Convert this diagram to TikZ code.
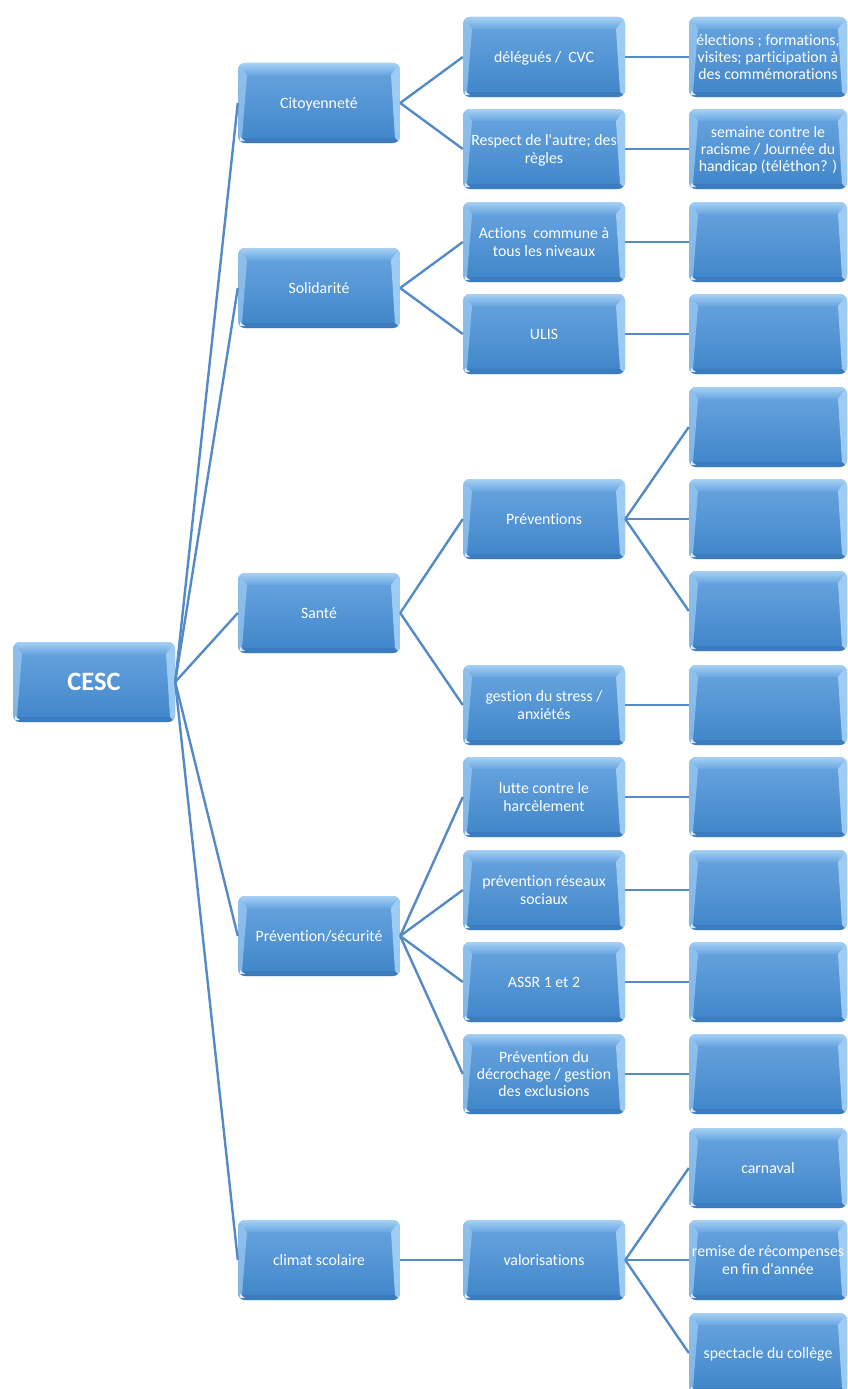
\documentclass[tikz,border=0pt]{standalone}
\usepackage{fontspec}
\setmainfont{Carlito}[Ligatures={NoCommon}]
\definecolor{boxtop}{HTML}{6AA6E0}
\definecolor{boxbot}{HTML}{3F85C9}
\definecolor{bevlight}{HTML}{AAD4F7}
\definecolor{bevdark}{HTML}{3573B3}
\definecolor{linkc}{HTML}{548BC6}
\tikzset{
  box/.style={rounded corners=7pt, minimum width=162pt, minimum height=80pt, inner sep=0pt,
    align=center, text=white, font=\fontsize{15.8}{17.3}\selectfont, text depth=0pt,
    top color=boxtop, bottom color=boxbot, draw=none,
    path picture={
      \begin{scope}[sharp corners]
      \coordinate (nw) at (path picture bounding box.north west);
      \coordinate (ne) at (path picture bounding box.north east);
      \coordinate (sw) at (path picture bounding box.south west);
      \coordinate (se) at (path picture bounding box.south east);
      \shade[top color=bevlight, bottom color=boxtop, opacity=0.95]
        (nw) -- (ne) -- ([shift={(-9pt,-12pt)}]ne) -- ([shift={(9pt,-12pt)}]nw) -- cycle;
      \fill[bevlight, opacity=0.6]
        (nw) -- ([shift={(9pt,-12pt)}]nw) -- ([shift={(4pt,5pt)}]sw) -- (sw) -- cycle;
      \fill[bevlight, opacity=0.85]
        (ne) -- ([shift={(-9pt,-12pt)}]ne) -- ([shift={(-5pt,5pt)}]se) -- (se) -- cycle;
      \fill[bevdark, opacity=0.5]
        (sw) -- ([shift={(4pt,5pt)}]sw) -- ([shift={(-5pt,5pt)}]se) -- (se) -- cycle;
      \fill[white, opacity=0.8] ([shift={(2pt,2pt)}]sw) -- ([shift={(7pt,2pt)}]sw) -- ([shift={(2pt,6pt)}]sw) -- cycle;
      \end{scope}
    }},
  rootbox/.style={box, font=\fontsize{26.5}{30}\selectfont\bfseries},
  smallbox/.style={box, minimum width=158pt},
  link/.style={draw=linkc, line width=2.4pt}
}
\newcommand{\ap}{\textquotesingle}
\begin{document}
\begin{tikzpicture}[x=1pt,y=-1pt]
\useasboundingbox (0,0) rectangle (847,1389);
% root
\node[rootbox] (root) at (94,682) {CESC};
% level 1
\node[box] (cit)  at (319,103)  {Citoyenneté};
\node[box] (sol)  at (319,288)  {Solidarité};
\node[box] (san)  at (319,613)  {Santé};
\node[box] (prev) at (319,936)  {Prévention/sécurité};
\node[box] (clim) at (319,1260) {climat scolaire};
% level 2
\node[box] (del)    at (544,57)   {délégués /\ \ CVC};
\node[box] (resp)   at (544,149)  {Respect de l\ap autre; des\\règles};
\node[box] (act)    at (544,242)  {Actions\ \ commune à\\tous les niveaux};
\node[box] (ulis)   at (544,334)  {ULIS};
\node[box] (prevs)  at (544,519)  {Préventions};
\node[box] (stress) at (544,705)  {gestion du stress /\\anxiétés};
\node[box] (lutte)  at (544,797)  {lutte contre le\\harcèlement};
\node[box] (res)    at (544,890)  {prévention réseaux\\sociaux};
\node[box] (assr)   at (544,982)  {ASSR 1 et 2};
\node[box] (dec)    at (544,1074) {Prévention du\\décrochage / gestion\\des exclusions};
\node[box] (val)    at (544,1260) {valorisations};
% level 3
\node[smallbox] (e1)  at (768,57)   {élections ; formations,\\visites; participation à\\des commémorations};
\node[smallbox] (e2)  at (768,149)  {semaine contre le\\racisme / Journée du\\handicap (téléthon? )};
\node[smallbox] (e3)  at (768,242)  {};
\node[smallbox] (e4)  at (768,334)  {};
\node[smallbox] (e5)  at (768,427)  {};
\node[smallbox] (e6)  at (768,519)  {};
\node[smallbox] (e7)  at (768,611)  {};
\node[smallbox] (e8)  at (768,705)  {};
\node[smallbox] (e9)  at (768,797)  {};
\node[smallbox] (e10) at (768,890)  {};
\node[smallbox] (e11) at (768,982)  {};
\node[smallbox] (e12) at (768,1074) {};
\node[smallbox] (carn) at (768,1168) {carnaval};
\node[smallbox] (rem)  at (768,1260) {remise de récompenses\\en fin d\ap année};
\node[smallbox] (spec) at (768,1353) {spectacle du collège};
% connectors
\foreach \c in {cit,sol,san,prev,clim} \draw[link] (root.east) -- (\c.west);
\foreach \p/\c in {cit/del,cit/resp,sol/act,sol/ulis,san/prevs,san/stress,
  prev/lutte,prev/res,prev/assr,prev/dec,clim/val,
  del/e1,resp/e2,act/e3,ulis/e4,prevs/e5,prevs/e6,prevs/e7,stress/e8,
  lutte/e9,res/e10,assr/e11,dec/e12,val/carn,val/rem,val/spec}
  \draw[link] (\p.east) -- (\c.west);
\end{tikzpicture}
\end{document}
